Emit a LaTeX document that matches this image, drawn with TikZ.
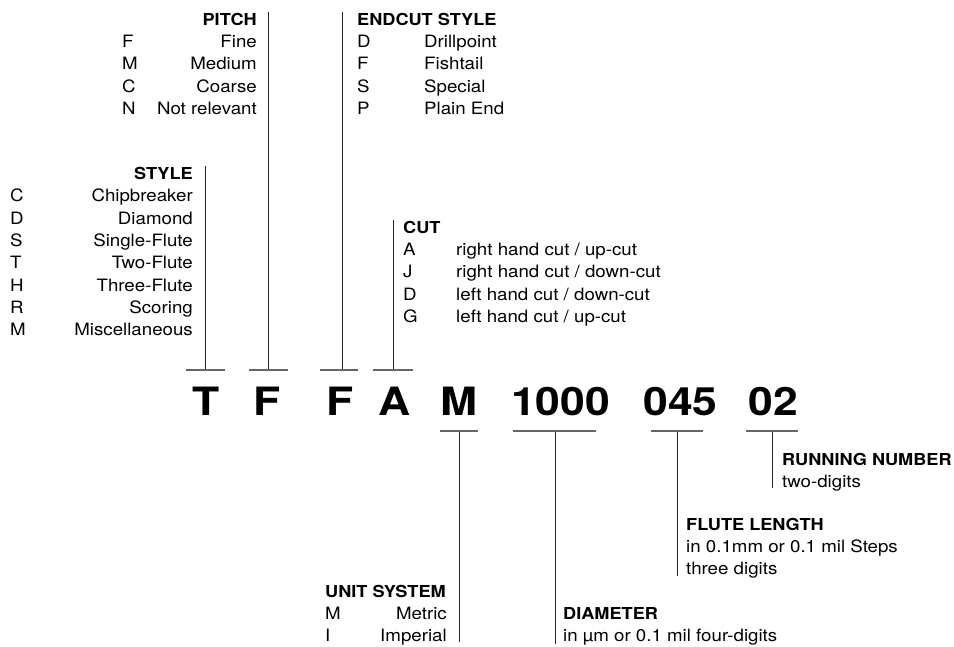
\documentclass[tikz,border=0pt]{standalone}
\usepackage{fontspec}
\setmainfont{TeX Gyre Heros}[FakeStretch=1.1]
\newfontfamily\codefont{TeX Gyre Heros}[FakeStretch=1.14]
\begin{document}
\begin{tikzpicture}[x=1pt,y=-1pt,
  lbl/.style={inner sep=0pt, font=\fontsize{17}{20}\selectfont},
  hd/.style={inner sep=0pt, font=\fontsize{16.5}{20}\selectfont\bfseries},
  code/.style={inner sep=0pt, anchor=base, font=\codefont\fontsize{39}{44}\selectfont\bfseries},
  stem/.style={line width=0.9pt, draw=black!85},
  bar/.style={line width=1.5pt, draw=black!60}]
\useasboundingbox (0,0) rectangle (954,646);

% ---------- PITCH ----------
\node[hd, anchor=base east] (pitchH) at (257,25) {PITCH};
\foreach \k/\v [count=\i] in {F/Fine, M/Medium, C/Coarse, N/Not relevant} {
  \node[lbl, anchor=base west] (pitchK\i) at (122,{25+22.4*\i}) {\k};
  \node[lbl, anchor=base east] (pitchV\i) at (257,{25+22.4*\i}) {\v};
}
% ---------- ENDCUT STYLE ----------
\node[hd, anchor=base west] (endH) at (357,25) {ENDCUT STYLE};
\foreach \k/\v [count=\i] in {D/Drillpoint, F/Fishtail, S/Special, P/Plain End} {
  \node[lbl, anchor=base west] (endK\i) at (357,{25+22.4*\i}) {\k};
  \node[lbl, anchor=base west] (endV\i) at (424,{25+22.4*\i}) {\v};
}
% ---------- STYLE ----------
\node[hd, anchor=base east] (styleH) at (193,179.5) {STYLE};
\foreach \k/\v [count=\i] in {C/Chipbreaker, D/Diamond, S/Single-Flute, T/Two-Flute, H/Three-Flute, R/Scoring, M/Miscellaneous} {
  \node[lbl, anchor=base west] (styleK\i) at (10,{179.5+22.3*\i}) {\k};
  \node[lbl, anchor=base east] (styleV\i) at (193,{179.5+22.3*\i}) {\v};
}
% ---------- CUT ----------
\node[hd, anchor=base west] (cutH) at (403,233) {CUT};
\node[lbl, anchor=base west] (cutK1) at (403,255.4) {A};
\node[lbl, anchor=base west] (cutV1) at (456,255.4) {right hand cut / up-cut};
\node[lbl, anchor=base west] (cutK2) at (403,277.8) {J};
\node[lbl, anchor=base west] (cutV2) at (456,277.8) {right hand cut / down-cut};
\node[lbl, anchor=base west] (cutK3) at (403,300.2) {D};
\node[lbl, anchor=base west] (cutV3) at (456,300.2) {left hand cut / down-cut};
\node[lbl, anchor=base west] (cutK4) at (403,322.6) {G};
\node[lbl, anchor=base west] (cutV4) at (456,322.6) {left hand cut / up-cut};

% ---------- code ----------
\node[code] (cT) at (206,415) {T};
\node[code] (cF1) at (267,415) {F};
\node[code] (cF2) at (340,415) {F};
\node[code] (cA) at (395,415) {A};
\node[code] (cM) at (459.5,415) {M};
\node[code] (cDia) at (560.5,415) {1000};
\node[code] (cFl) at (680.5,415) {045};
\node[code] (cRun) at (773.5,415) {02};

% ---------- UNIT SYSTEM ----------
\node[hd, anchor=base west] (unitH) at (325,597) {UNIT SYSTEM};
\node[lbl, anchor=base west] (unitK1) at (325,619.4) {M};
\node[lbl, anchor=base east] (unitV1) at (447,619.4) {Metric};
\node[lbl, anchor=base west] (unitK2) at (325,641.8) {I};
\node[lbl, anchor=base east] (unitV2) at (447,641.8) {Imperial};
% ---------- DIAMETER ----------
\node[hd, anchor=base west] (diaH) at (563,619.4) {DIAMETER};
\node[lbl, anchor=base west] (diaT) at (563,641.8) {in µm or 0.1 mil four-digits};
% ---------- FLUTE LENGTH ----------
\node[hd, anchor=base west] (flH) at (686,530) {FLUTE LENGTH};
\node[lbl, anchor=base west] (flT1) at (686,552.4) {in 0.1mm or 0.1 mil Steps};
\node[lbl, anchor=base west] (flT2) at (686,574.8) {three digits};
% ---------- RUNNING NUMBER ----------
\node[hd, anchor=base west] (runH) at (782,465) {RUNNING NUMBER};
\node[lbl, anchor=base west] (runT) at (782,487.4) {two-digits};

% ---------- connector coordinates ----------
\coordinate (styleTop) at (205,166);  \coordinate (styleFoot) at (205,370);
\coordinate (styleBL) at (186,370);   \coordinate (styleBR) at (225,370);
\coordinate (pitchTop) at (268,12);   \coordinate (pitchFoot) at (268,370);
\coordinate (pitchBL) at (249,370);   \coordinate (pitchBR) at (288,370);
\coordinate (endTop) at (342,12);     \coordinate (endFoot) at (342,370);
\coordinate (endBL) at (320,370);     \coordinate (endBR) at (358,370);
\coordinate (cutTop) at (393,220);    \coordinate (cutFoot) at (393,370);
\coordinate (cutBL) at (373,370);     \coordinate (cutBR) at (413,370);

\coordinate (unitTop) at (459,431);   \coordinate (unitFoot) at (459,642);
\coordinate (unitBL) at (440,431);    \coordinate (unitBR) at (478,431);
\coordinate (diaTop) at (555,431);    \coordinate (diaFoot) at (555,644);
\coordinate (diaBL) at (513,431);     \coordinate (diaBR) at (596,431);
\coordinate (flTop) at (677,431);     \coordinate (flFoot) at (677,576);
\coordinate (flBL) at (651,431);      \coordinate (flBR) at (703,431);
\coordinate (runTop) at (772,431);    \coordinate (runFoot) at (772,488);
\coordinate (runBL) at (746,431);     \coordinate (runBR) at (798,431);

\foreach \n in {style,pitch,end,cut,unit,dia,fl,run} {
  \draw[stem] (\n Top) -- (\n Foot);
  \draw[bar] (\n BL) -- (\n BR);
}
\end{tikzpicture}
\end{document}
